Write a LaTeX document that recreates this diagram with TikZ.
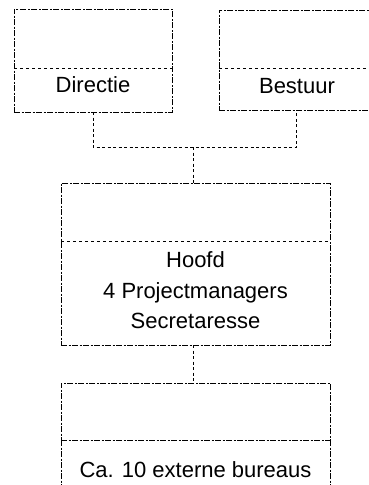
\documentclass[tikz,border=0pt]{standalone}
\usepackage{fontspec}
\setmainfont{Liberation Sans}
\begin{document}
\begin{tikzpicture}[x=1pt,y=-1pt,
  box/.style={draw=black,line width=0.9pt,dash pattern=on 6pt off 1.5pt on 2pt off 1.5pt,inner sep=0pt,outer sep=0pt},
  sep/.style={draw=black,line width=0.8pt,dash pattern=on 3pt off 3pt},
  conn/.style={draw=black,line width=0.8pt,dash pattern=on 3pt off 2.5pt},
  lbl/.style={anchor=base,inner sep=0pt,font=\fontsize{22}{26}\selectfont}]
\useasboundingbox (0,0) rectangle (369,485);
% top boxes
\node[box,minimum width=158pt,minimum height=103pt] (dir) at (93,60.5) {};
\node[box,minimum width=155pt,minimum height=100pt] (bes) at (296.5,60) {};
\draw[sep] (dir.west |- 0,68) -- (dir.east |- 0,68);
\draw[sep] (bes.west |- 0,68) -- (bes.east |- 0,68);
\node[lbl] (dirl) at (93,92) {Directie};
\node[lbl] (besl) at (297,93) {Bestuur};
% middle box
\node[box,minimum width=269pt,minimum height=162pt] (mid) at (195.5,264) {};
\draw[sep] (mid.west |- 0,241) -- (mid.east |- 0,241);
\node[lbl] (hoofd) at (195.5,267.5) {Hoofd};
\node[lbl] (pm) at (195.5,298) {4 Projectmanagers};
\node[lbl] (secr) at (195.5,328) {Secretaresse};
% bottom box
\node[box,minimum width=269pt,minimum height=57pt] (ext) at (195.5,411.5) {};
\draw[box] (ext.south west) -- ++(0,50);
\draw[box] (ext.south east) -- ++(0,50);
\node[lbl] (extl) at (195.5,477) {Ca. 10 externe bureaus};
% connectors
\coordinate (j) at (193,147);
\draw[conn] (dir.south) -- (dir.south |- j) -- (bes.south |- j) -- (bes.south);
\draw[conn] (j) -- (j |- mid.north);
\draw[conn] (mid.south -| j) -- (ext.north -| j);
\end{tikzpicture}
\end{document}
